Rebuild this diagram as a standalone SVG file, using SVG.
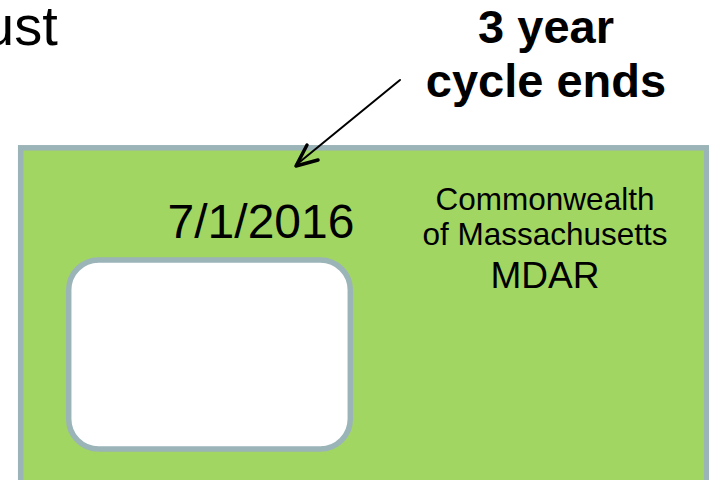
<svg xmlns="http://www.w3.org/2000/svg" width="709" height="480" viewBox="0 0 709 480">
<style>
  text { font-family: "Liberation Sans", Arial, sans-serif; fill: #000; }
  .card { fill: #a2d662; stroke: #9bb4b8; stroke-width: 5.5; }
  .photo { fill: #ffffff; stroke: #9bb4b8; stroke-width: 5.5; }
  .bold { font-weight: bold; font-size: 47px; }
  .conn { stroke: #000; fill: none; stroke-linecap: round; stroke-linejoin: round; }
</style>
<rect width="709" height="480" fill="#ffffff"/>
<g id="title">
  <text x="-17" y="45" font-size="56">ust</text>
</g>
<g id="card">
  <rect class="card" x="20.7" y="147.8" width="686" height="336"/>
</g>
<g id="photo">
  <rect class="photo" x="68.7" y="260" width="281.6" height="189" rx="30" ry="30"/>
</g>
<g id="date">
  <text x="261" y="238" font-size="48" text-anchor="middle">7/1/2016</text>
</g>
<g id="issuer">
  <text x="545" y="210" font-size="31.5" text-anchor="middle">Commonwealth</text>
  <text x="545" y="245" font-size="31.5" text-anchor="middle">of Massachusetts</text>
  <text x="545" y="288" font-size="37" text-anchor="middle">MDAR</text>
</g>
<g id="label">
  <text class="bold" x="546" y="43" text-anchor="middle">3 year</text>
  <text class="bold" x="546" y="97" text-anchor="middle">cycle ends</text>
</g>
<g id="connectors">
  <line class="conn" x1="400" y1="80" x2="296" y2="165" stroke-width="2"/>
  <polyline class="conn" points="307,145 296,166 318,160" stroke-width="3.5"/>
</g>
</svg>
